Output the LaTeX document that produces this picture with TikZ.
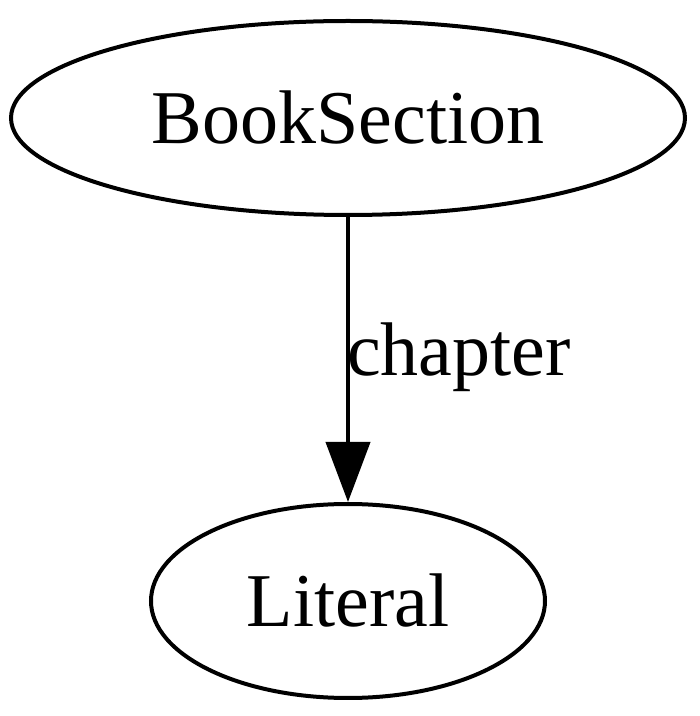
\documentclass[tikz,border=0pt]{standalone}
\usepackage{fontspec}
\setmainfont{Liberation Serif}
\usetikzlibrary{arrows.meta}
\usetikzlibrary{positioning}
\usetikzlibrary{shapes.geometric}

\tikzset{
  class/.style={ellipse, draw, line width=4pt, inner sep=0pt, minimum height=194pt,
    font=\fontsize{76}{88}\selectfont},
  prop/.style={-{Triangle[length=60pt,width=44pt]}, line width=4pt},
}

\begin{document}
\begin{tikzpicture}
    \useasboundingbox (0pt,0pt) rectangle (700pt,716pt);

    \node [class, minimum width=674pt] (booksection) at (348pt,598pt) {BookSection};
    \node [class, minimum width=394pt, below=285pt of booksection] (literal) {Literal};

    \draw [prop] (booksection) -- node [anchor=west, inner sep=0pt, xshift=-3pt, yshift=2pt,
      font=\fontsize{76}{88}\selectfont] {chapter} (literal);
  \end{tikzpicture}
\end{document}
